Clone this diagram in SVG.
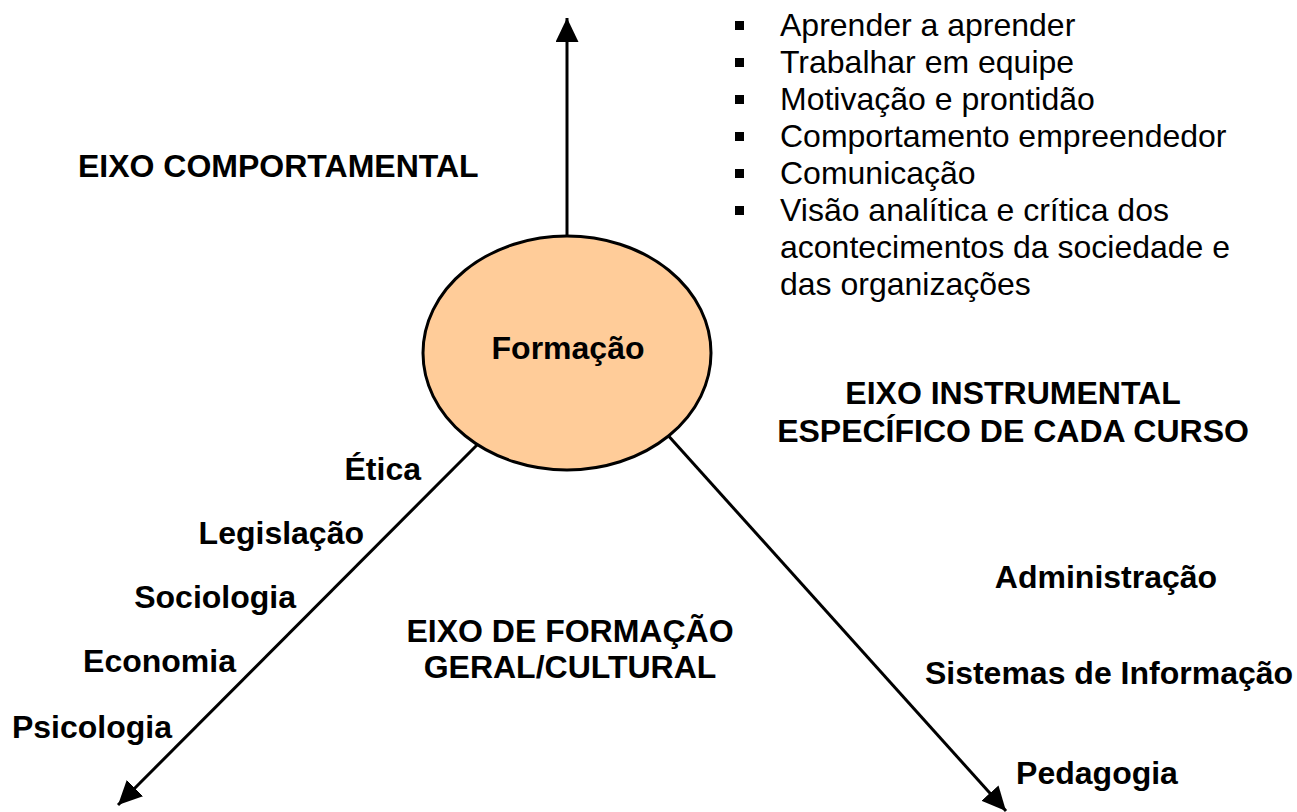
<svg xmlns="http://www.w3.org/2000/svg" width="1297" height="812" viewBox="0 0 1297 812">
<style>
.b{font-family:"Liberation Sans",Arial,sans-serif;font-weight:bold;font-size:32px;fill:#000}
.r{font-family:"Liberation Sans",Arial,sans-serif;font-size:32px;fill:#000}
.ln{stroke:#000;stroke-width:3;fill:none}
</style>
<defs>
<marker id="ah" markerUnits="userSpaceOnUse" markerWidth="26" markerHeight="24" refX="24" refY="11.5" orient="auto">
<path d="M0,0 L24,11.5 L0,23 z" fill="#000"/>
</marker>
</defs>
<rect width="1297" height="812" fill="#fff"/>
<g id="connectors">
<line class="ln" x1="567" y1="250" x2="567" y2="18" marker-end="url(#ah)"/>
<line class="ln" x1="480" y1="442" x2="118" y2="805" marker-end="url(#ah)"/>
<line class="ln" x1="665" y1="432" x2="1006" y2="811" marker-end="url(#ah)"/>
</g>
<g id="formacao">
<ellipse cx="567" cy="353" rx="144" ry="117" fill="#FFCC99" stroke="#000" stroke-width="3"/>
<text class="b" x="568" y="359" text-anchor="middle">Formação</text>
</g>
<g id="eixo-comportamental">
<text class="b" x="78" y="177">EIXO COMPORTAMENTAL</text>
</g>
<g id="lista-comportamental">
<rect x="735" y="21" width="9" height="9"/>
<rect x="735" y="58" width="9" height="9"/>
<rect x="735" y="95" width="9" height="9"/>
<rect x="735" y="132" width="9" height="9"/>
<rect x="735" y="169" width="9" height="9"/>
<rect x="735" y="206" width="9" height="9"/>
<text class="r" x="780" y="36">Aprender a aprender</text>
<text class="r" x="780" y="73">Trabalhar em equipe</text>
<text class="r" x="780" y="110">Motivação e prontidão</text>
<text class="r" x="780" y="147">Comportamento empreendedor</text>
<text class="r" x="780" y="184">Comunicação</text>
<text class="r" x="780" y="221">Visão analítica e crítica dos</text>
<text class="r" x="780" y="258">acontecimentos da sociedade e</text>
<text class="r" x="780" y="295">das organizações</text>
</g>
<g id="eixo-instrumental">
<text class="b" x="1013" y="404" text-anchor="middle">EIXO INSTRUMENTAL</text>
<text class="b" x="1013" y="442" text-anchor="middle">ESPECÍFICO DE CADA CURSO</text>
</g>
<g id="cursos">
<text class="b" x="1106" y="588" text-anchor="middle">Administração</text>
<text class="b" x="1109" y="684" text-anchor="middle">Sistemas de Informação</text>
<text class="b" x="1097" y="784" text-anchor="middle">Pedagogia</text>
</g>
<g id="eixo-geral">
<text class="b" x="570" y="642" text-anchor="middle">EIXO DE FORMAÇÃO</text>
<text class="b" x="570" y="678" text-anchor="middle">GERAL/CULTURAL</text>
</g>
<g id="disciplinas">
<text class="b" x="421" y="480" text-anchor="end">Ética</text>
<text class="b" x="364" y="544" text-anchor="end">Legislação</text>
<text class="b" x="296" y="608" text-anchor="end">Sociologia</text>
<text class="b" x="236" y="672" text-anchor="end">Economia</text>
<text class="b" x="172" y="738" text-anchor="end">Psicologia</text>
</g>
</svg>
